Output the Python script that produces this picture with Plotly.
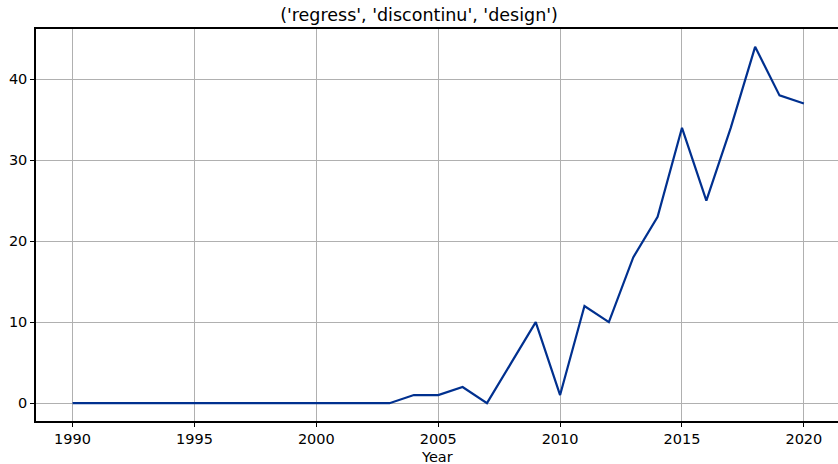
import plotly.graph_objects as go

years = list(range(1990, 2021))
counts = [0]*14 + [1, 1, 2, 0, 5, 10, 1, 12, 10, 18, 23, 34, 25, 34, 44, 38, 37]
title = "('regress', 'discontinu', 'design')"
x_label = "Year"
x_ticks = [1990, 1995, 2000, 2005, 2010, 2015, 2020]
y_ticks = [0, 10, 20, 30, 40]

fig = go.Figure()
fig.add_trace(go.Scatter(x=years, y=counts, mode="lines",
                         line=dict(color="#00308f", width=2.2)))

axis_common = dict(showgrid=True, gridcolor="#b0b0b0", gridwidth=1,
                   showline=True, linecolor="black", linewidth=1.5,
                   ticks="outside", ticklen=4, tickcolor="black",
                   zeroline=False, automargin=False,
                   tickfont=dict(size=14.5, color="black"))

fig.update_layout(
    width=838, height=464,
    margin=dict(l=36, r=0, t=29, b=43, autoexpand=False),
    paper_bgcolor="white", plot_bgcolor="white",
    font=dict(family="DejaVu Sans", color="black"),
    title=dict(text=title, x=0.5, xanchor="center", y=0.967, yanchor="middle",
               font=dict(size=17.5, color="black")),
    showlegend=False,
    xaxis=dict(range=[1988.5, 2021.4], tickvals=x_ticks, mirror=True,
               **axis_common),
    yaxis=dict(range=[-2.2, 46.2], tickvals=y_ticks, mirror=False, **axis_common),
    annotations=[dict(text=x_label, xref="paper", yref="paper", x=0.5, y=-0.092,
                      xanchor="center", yanchor="middle", showarrow=False,
                      font=dict(size=14.5, color="black"))],
)

fig.write_html("out.html", config={"displayModeBar": False},
               post_script="document.body.style.margin='0';document.body.style.overflow='hidden';")
